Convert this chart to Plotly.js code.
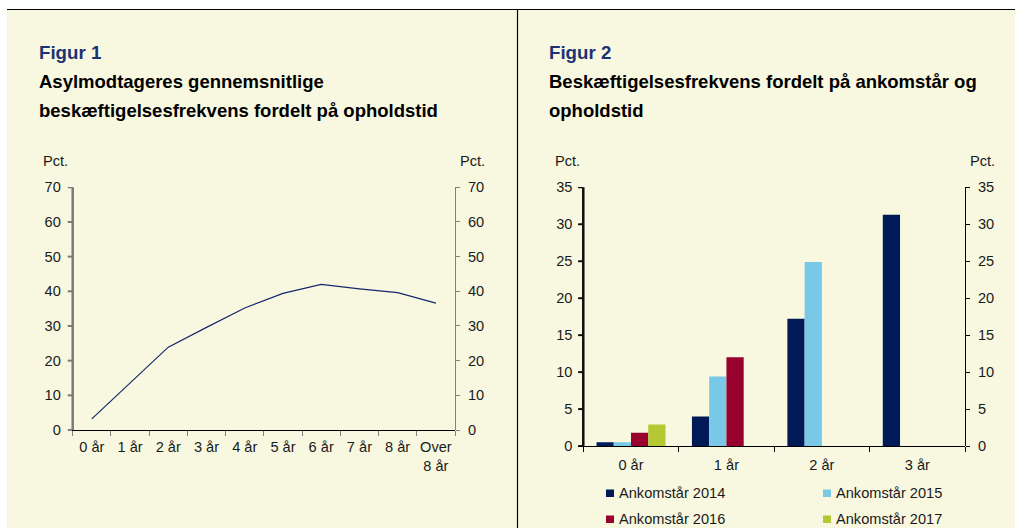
<!DOCTYPE html>
<html>
<head>
<meta charset="utf-8">
<script src="https://cdn.plot.ly/plotly-3.0.1.min.js"></script>
<style>
  html, body { margin: 0; padding: 0; background: #ffffff; }
  #chart { width: 1015px; height: 528px; }
</style>
</head>
<body>
<div id="chart"></div>
<script>
// ---------- DATA ----------
const fig1Categories = ['0 år', '1 år', '2 år', '3 år', '4 år', '5 år', '6 år', '7 år', '8 år', 'Over<br>8 år'];
const fig1Values = [3.2, 13.6, 23.9, 29.6, 35.2, 39.4, 42.0, 40.7, 39.6, 36.6];
const fig1YTicks = [0, 10, 20, 30, 40, 50, 60, 70];

const fig2Categories = ['0 år', '1 år', '2 år', '3 år'];
const seriesNames = ['Ankomstår 2014', 'Ankomstår 2015', 'Ankomstår 2016', 'Ankomstår 2017'];
const arrival2014 = [0.5, 4.0, 17.2, 31.3];
const arrival2015 = [0.5, 9.4, 24.9, null];
const arrival2016 = [1.8, 12.0, null, null];
const arrival2017 = [2.9, null, null, null];
const fig2YTicks = [0, 5, 10, 15, 20, 25, 30, 35];

const fig1Title = ['Figur 1', 'Asylmodtageres gennemsnitlige', 'beskæftigelsesfrekvens fordelt på opholdstid'];
const fig2Title = ['Figur 2', 'Beskæftigelsesfrekvens fordelt på ankomstår og', 'opholdstid'];
const unitLabel = 'Pct.';

// ---------- STYLE ----------
const W = 1015, H = 528;
const px = v => v / W;
const py = v => 1 - v / H;
const bg = '#F8F8E1';
const navy = '#1C3372';
const seriesColors = ['#001A57', '#78C8E6', '#98002E', '#B3C833'];
const FONT = 'Liberation Sans, Arial, sans-serif';
const tickFont = { family: FONT, size: 14.6, color: '#1a1a1a' };

const seriesValues = [arrival2014, arrival2015, arrival2016, arrival2017];

const traces = [
  {
    type: 'scatter', mode: 'lines',
    x: fig1Categories, y: fig1Values,
    xaxis: 'x', yaxis: 'y',
    line: { color: '#14286B', width: 1.2 },
    showlegend: false, hoverinfo: 'x+y'
  },
  // invisible companion so the right-hand axis of figure 1 is drawn
  {
    type: 'scatter', mode: 'markers',
    x: fig1Categories, y: fig1Values,
    xaxis: 'x2', yaxis: 'y2',
    marker: { opacity: 0, size: 1 },
    showlegend: false, hoverinfo: 'skip'
  }
];
seriesValues.forEach((vals, i) => {
  traces.push({
    type: 'bar', x: fig2Categories, y: vals, name: seriesNames[i],
    xaxis: 'x3', yaxis: 'y3',
    marker: { color: seriesColors[i], line: { width: 0 } },
    showlegend: false
  });
});
// invisible companion so the right-hand axis of figure 2 is drawn
traces.push({
  type: 'scatter', mode: 'markers',
  x: fig2Categories, y: arrival2014,
  xaxis: 'x4', yaxis: 'y4',
  marker: { opacity: 0, size: 1 },
  showlegend: false, hoverinfo: 'skip'
});

const yTickCommon = {
  ticks: 'outside', ticklen: 4, tickwidth: 1, showline: true, linewidth: 1,
  showgrid: false, zeroline: false, tickfont: tickFont, fixedrange: true
};

const annotations = [];
const shapes = [];

// backgrounds and frame
shapes.push({ type: 'rect', xref: 'paper', yref: 'paper', x0: px(7), x1: 1, y0: 0, y1: py(9), fillcolor: bg, line: { width: 0 }, layer: 'below' });
shapes.push({ type: 'line', xref: 'paper', yref: 'paper', x0: px(7), x1: 1, y0: py(9.5), y1: py(9.5), line: { color: '#000', width: 1.2 }, layer: 'below' });
shapes.push({ type: 'line', xref: 'paper', yref: 'paper', x0: px(517.5), x1: px(517.5), y0: 0, y1: py(9.5), line: { color: '#000', width: 1.2 }, layer: 'below' });

// left-hand value axes (line + ticks), placed through the axes' own scales
function leftAxis(xr, yr, tickVals, color) {
  shapes.push({ type: 'line', xref: xr + ' domain', yref: yr + ' domain', x0: 0, x1: 0, y0: 0, y1: 1, line: { color: color, width: 2.5 } });
  tickVals.forEach(v => {
    shapes.push({ type: 'line', xref: xr + ' domain', xsizemode: 'pixel', xanchor: 0, x0: -5, x1: 0, yref: yr, y0: v, y1: v, line: { color: color, width: 2 } });
  });
}
leftAxis('x', 'y', fig1YTicks, '#7a7a7a');
leftAxis('x3', 'y3', fig2YTicks, '#111111');

function addTitle(lines, left) {
  annotations.push({ text: '<b>' + lines[0] + '</b>', xref: 'paper', yref: 'paper', x: px(left), y: py(53), xanchor: 'left', yanchor: 'middle', showarrow: false, font: { family: FONT, size: 18.7, color: navy } });
  annotations.push({ text: '<b>' + lines[1] + '</b>', xref: 'paper', yref: 'paper', x: px(left), y: py(81), xanchor: 'left', yanchor: 'middle', showarrow: false, font: { family: FONT, size: 18.5, color: '#000' } });
  annotations.push({ text: '<b>' + lines[2] + '</b>', xref: 'paper', yref: 'paper', x: px(left), y: py(110), xanchor: 'left', yanchor: 'middle', showarrow: false, font: { family: FONT, size: 18.5, color: '#000' } });
}
addTitle(fig1Title, 37);
addTitle(fig2Title, 547);

function addUnit(x, anchor) {
  annotations.push({ text: unitLabel, xref: 'paper', yref: 'paper', x: px(x), y: py(161), xanchor: anchor, yanchor: 'middle', showarrow: false, font: tickFont });
}
addUnit(41, 'left');
addUnit(487, 'right');
addUnit(553, 'left');
addUnit(997, 'right');

// manual legend
const legendPos = [[606, 493], [823, 493], [606, 519], [823, 519]];
seriesNames.forEach((name, i) => {
  const [lx, ly] = legendPos[i];
  shapes.push({ type: 'rect', xref: 'paper', yref: 'paper', x0: px(lx), x1: px(lx + 8), y0: py(ly - 3.5), y1: py(ly + 4), fillcolor: seriesColors[i], line: { width: 0 } });
  annotations.push({ text: name, xref: 'paper', yref: 'paper', x: px(lx + 11), y: py(ly), xanchor: 'left', yanchor: 'middle', showarrow: false, font: { family: FONT, size: 14.6, color: '#1a1a1a' } });
});

const fig1XDomain = [px(72.7), px(455)];
const fig1YDomain = [py(430), py(187.3)];
const fig2XDomain = [px(583.3), px(965)];
const fig2YDomain = [py(446), py(187.3)];

const layout = {
  width: W, height: H,
  margin: { l: 0, r: 0, t: 0, b: 0, pad: 0 },
  paper_bgcolor: '#ffffff',
  plot_bgcolor: 'rgba(0,0,0,0)',
  font: { family: FONT, color: '#1a1a1a' },
  showlegend: false,
  barmode: 'group', bargap: 0.277, bargroupgap: 0,
  xaxis: {
    domain: fig1XDomain, anchor: 'y', type: 'category', range: [-0.5, 9.5],
    tickson: 'boundaries', ticks: 'outside', ticklen: 5, tickcolor: '#808080',
    showline: true, linecolor: '#000', linewidth: 1, showgrid: false, zeroline: false,
    tickfont: tickFont, tickangle: 0, ticklabelstandoff: 3, fixedrange: true
  },
  yaxis: Object.assign({}, yTickCommon, {
    domain: fig1YDomain, anchor: 'x', side: 'left', range: [0, 70], tickvals: fig1YTicks,
    linecolor: '#808080', tickcolor: '#808080', ticklabelstandoff: 4
  }),
  xaxis2: {
    domain: fig1XDomain, anchor: 'y2', type: 'category', range: [-0.5, 9.5],
    visible: false, fixedrange: true
  },
  yaxis2: Object.assign({}, yTickCommon, {
    domain: fig1YDomain, anchor: 'x2', side: 'right', range: [0, 70], tickvals: fig1YTicks,
    linecolor: '#808080', tickcolor: '#808080', ticklabelstandoff: 5
  }),
  xaxis3: {
    domain: fig2XDomain, anchor: 'y3', type: 'category', range: [-0.5, 3.5],
    tickson: 'boundaries', ticks: 'outside', ticklen: 5, tickcolor: '#000',
    showline: true, linecolor: '#000', linewidth: 1, showgrid: false, zeroline: false,
    tickfont: tickFont, tickangle: 0, ticklabelstandoff: 5, fixedrange: true
  },
  yaxis3: Object.assign({}, yTickCommon, {
    domain: fig2YDomain, anchor: 'x3', side: 'left', range: [0, 35], tickvals: fig2YTicks,
    linecolor: '#000', tickcolor: '#000', ticklabelstandoff: 3
  }),
  xaxis4: {
    domain: fig2XDomain, anchor: 'y4', type: 'category', range: [-0.5, 3.5],
    visible: false, fixedrange: true
  },
  yaxis4: Object.assign({}, yTickCommon, {
    domain: fig2YDomain, anchor: 'x4', side: 'right', range: [0, 35], tickvals: fig2YTicks,
    linecolor: '#000', tickcolor: '#000', ticklabelstandoff: 5
  }),
  shapes: shapes,
  annotations: annotations
};

Plotly.newPlot('chart', traces, layout, { displayModeBar: false, staticPlot: true });
</script>
</body>
</html>
